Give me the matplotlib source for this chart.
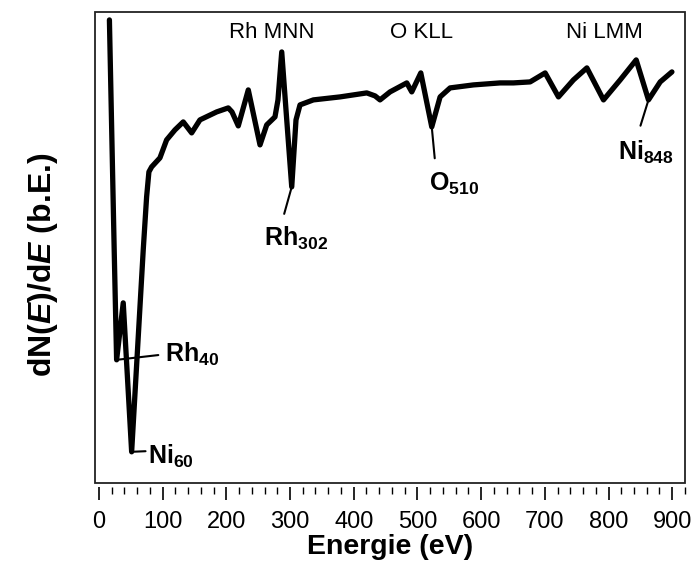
import numpy as np
import matplotlib
matplotlib.use("Agg")
import matplotlib.pyplot as plt
from matplotlib.patches import Rectangle
from matplotlib.ticker import MultipleLocator

plt.rcParams['font.family'] = ['Liberation Sans', 'DejaVu Sans']
plt.rcParams['mathtext.fontset'] = 'custom'
plt.rcParams['mathtext.rm'] = 'Liberation Sans'
plt.rcParams['mathtext.it'] = 'Liberation Sans:italic'
plt.rcParams['mathtext.bf'] = 'Liberation Sans:bold'
plt.rcParams['mathtext.bfit'] = 'Liberation Sans:bold:italic'

# Auger spectrum, energy (eV) and derivative signal (arb. units)
energy = [16.5, 24.0, 27.8, 38.2, 51.4, 69.6, 74.9, 78.5, 82.8, 95.8, 106.3,
          119.4, 132.4, 145.6, 158.6, 184.9, 203.1, 208.9, 218.8, 234.5,
          252.9, 263.4, 276.4, 281.1, 287.0, 293.7, 302.7, 309.4, 315.7,
          336.6, 378.5, 420.5, 433.5, 441.3, 457.0, 483.3, 491.1, 505.3,
          522.5, 535.6, 551.3, 587.9, 629.8, 650.7, 676.9, 700.5, 721.4,
          744.9, 766.0, 792.1, 818.3, 843.4, 862.7, 881.1, 899.5]
signal = [463, 233, 123, 180, 31, 233, 286, 311, 316, 325, 343,
          353, 361, 350, 363, 371, 375, 371, 357, 393,
          338, 358, 366, 383, 431, 373, 296, 363, 378,
          383, 386, 390, 387, 383, 391, 400, 391, 410,
          356, 386, 395, 398, 400, 400, 401, 410, 386,
          403, 415, 383, 403, 423, 383, 401, 411]

# group labels (text, energy, level)
group_labels = ['Rh MNN', 'O KLL', 'Ni LMM']
group_x = [272, 507, 793]
group_y = [450, 450, 450]

# peak annotations: label and search window (eV) for the minimum
peak_labels = [r'Rh$_{\mathbf{40}}$', r'Ni$_{\mathbf{60}}$', r'Rh$_{\mathbf{302}}$',
               r'O$_{\mathbf{510}}$', r'Ni$_{\mathbf{848}}$']
peak_windows = [(20, 35), (40, 60), (290, 310), (510, 530), (850, 870)]

energy = np.array(energy)
signal = np.array(signal)

fig = plt.figure(figsize=(6.94, 5.68), dpi=100)
ax = fig.add_axes([0.137, 0.150, 0.850, 0.829])

ax.plot(energy, signal, color='black', lw=3.8, solid_joinstyle='round',
        solid_capstyle='round')

ax.set_xlim(-6, 920)
ax.set_ylim(0, 471)

# box
for s in ['top', 'left', 'right', 'bottom']:
    ax.spines[s].set_visible(False)
ax.add_patch(Rectangle((0, 0), 1, 1, transform=ax.transAxes, fill=False,
                       lw=1.3, edgecolor='#222222', clip_on=False, zorder=5))
ax.spines['bottom'].set_position(('outward', 3))
ax.xaxis.set_major_locator(MultipleLocator(100))
ax.xaxis.set_minor_locator(MultipleLocator(20))
ax.tick_params(axis='x', which='major', length=9, width=1.2, labelsize=17, pad=8)
ax.tick_params(axis='x', which='minor', length=5, width=1.0)
ax.set_yticks([])

ax.set_xlabel('Energie (eV)', fontsize=20.5, fontweight='bold', labelpad=1)
ax.set_ylabel(r'dN($\mathbfit{E}$)/d$\mathbfit{E}$ (b.E.)', fontsize=23,
              fontweight='bold')
ax.yaxis.set_label_coords(-0.06, 0.463)

for t, x, y in zip(group_labels, group_x, group_y):
    ax.text(x, y, t, fontsize=16, ha='center', va='center')

offsets = [(35, 4), (12, -3), (3, -37), (16, -41), (-1.5, -38)]
relpos = [(0, 0.5), (0, 0.68), (0.27, 1.0), (0.14, 1.0), (0.32, 1.0)]
shrinks = [3, 0, 6, 7, 8]
has = ['left', 'left', 'center', 'center', 'center']
for lab, win, off, rp, sh, ha in zip(peak_labels, peak_windows, offsets,
                                     relpos, shrinks, has):
    m = (energy >= win[0]) & (energy <= win[1])
    idx = np.where(m)[0][np.argmin(signal[m])]
    ax.annotate(lab, xy=(energy[idx], signal[idx]), xytext=off,
                textcoords='offset points', ha=ha, va='center',
                fontsize=18, fontweight='bold',
                arrowprops=dict(arrowstyle='-', lw=1.5, color='black',
                                relpos=rp, shrinkA=sh, shrinkB=0))

fig.savefig('out.png', dpi=100)
